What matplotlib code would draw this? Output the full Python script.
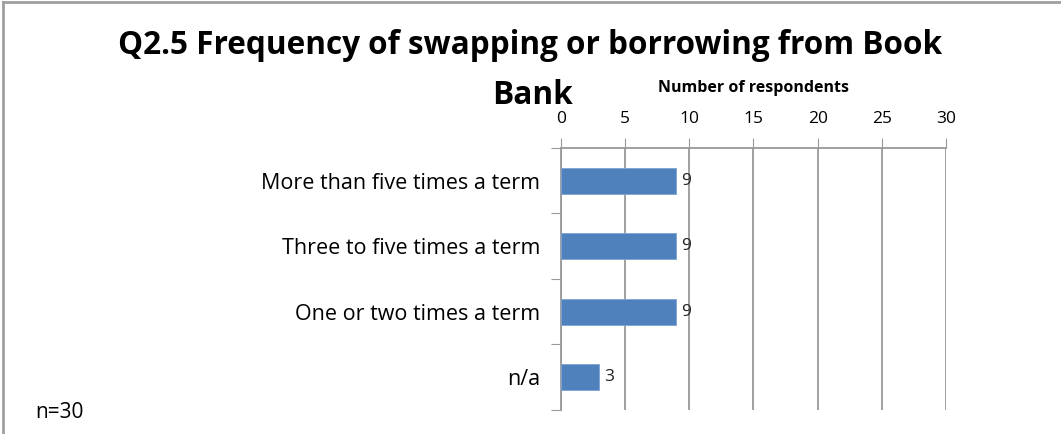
import matplotlib.pyplot as plt
import numpy as np

plt.rcParams['font.family'] = ['Open Sans', 'DejaVu Sans']

categories = ["More than five times a term", "Three to five times a term",
              "One or two times a term", "n/a"]
counts = [9, 9, 9, 3]
x_ticks = [0, 5, 10, 15, 20, 25, 30]

fig = plt.figure(figsize=(10.61, 4.34), dpi=100)
ax = fig.add_axes([0.5287, 0.0553, 0.3629, 0.6037])

y = np.arange(len(categories))
ax.barh(y, counts, height=0.4, color='#4F81BD', edgecolor='#7FA3D3', linewidth=0.6, zorder=3)
for yi, c in zip(y, counts):
    ax.text(c + 0.4, yi, str(c), va='center', ha='left', fontsize=12.5, color='#222222')

ax.set_xlim(0, 30)
ax.set_ylim(len(categories) - 0.5, -0.5)
ax.xaxis.tick_top()
ax.xaxis.set_label_position('top')
ax.set_xticks(x_ticks)
ax.set_xticklabels([str(t) for t in x_ticks], fontsize=12.5)
ax.tick_params(axis='x', length=7, color='#999999', pad=8)
ax.grid(axis='x', color='#999999', linewidth=1.3, zorder=0)
ax.set_xlabel('Number of respondents', fontsize=11.5, fontweight='bold', labelpad=14)

# category ticks sit between the bands
ax.set_yticks(np.arange(-0.5, len(categories)), minor=False)
ax.set_yticklabels([])
ax.set_yticks(y, minor=True)
ax.set_yticklabels(categories, minor=True, fontsize=15.5)
ax.tick_params(axis='y', which='major', length=7, color='#999999')
ax.tick_params(axis='y', which='minor', length=0, pad=15)

for side in ['right', 'bottom']:
    ax.spines[side].set_visible(False)
for side in ['top', 'left']:
    ax.spines[side].set_color('#999999')
    ax.spines[side].set_linewidth(1.3)

fig.text(0.5, 0.895, 'Q2.5 Frequency of swapping or borrowing from Book',
         ha='center', va='center', fontsize=22.7, fontweight='bold')
fig.text(0.502, 0.780, 'Bank', ha='center', va='center', fontsize=22.7, fontweight='bold')
fig.text(0.033, 0.05, 'n=30', ha='left', va='center', fontsize=15)

# outer frame (top and left edges)
fig.add_artist(plt.Line2D([0.003, 1.0], [0.995, 0.995], color='#A0A0A0', linewidth=2))
fig.add_artist(plt.Line2D([0.003, 0.003], [0.0, 0.995], color='#A0A0A0', linewidth=2))

fig.savefig('out.png', dpi=100)
